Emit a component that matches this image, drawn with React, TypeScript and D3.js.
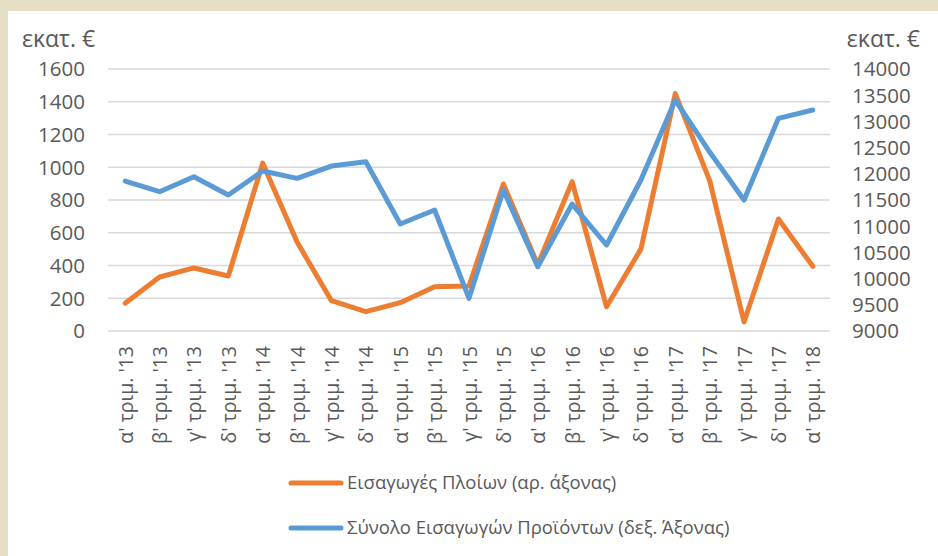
import React, { useEffect, useRef } from 'react';
import * as d3 from 'd3';

const quarters = [
  "α' τριμ. '13", "β' τριμ. '13", "γ' τριμ. '13", "δ' τριμ. '13",
  "α' τριμ. '14", "β' τριμ. '14", "γ' τριμ. '14", "δ' τριμ. '14",
  "α' τριμ. '15", "β' τριμ. '15", "γ' τριμ. '15", "δ' τριμ. '15",
  "α' τριμ. '16", "β' τριμ. '16", "γ' τριμ. '16", "δ' τριμ. '16",
  "α' τριμ. '17", "β' τριμ. '17", "γ' τριμ. '17", "δ' τριμ. '17",
  "α' τριμ. '18"
];

// Εισαγωγές Πλοίων (left axis)
const shipImports = [
  170, 330, 385, 336, 1025, 543, 185, 118, 173, 270, 275, 898,
  405, 912, 148, 500, 1450, 918, 55, 684, 395
];

// Σύνολο Εισαγωγών Προϊόντων (right axis)
const totalImports = [
  11862, 11658, 11944, 11595, 12053, 11913, 12148, 12230, 11042, 11309, 9624, 11690,
  10227, 11423, 10641, 11881, 13407, 12415, 11500, 13058, 13217
];

const leftTicks = [0, 200, 400, 600, 800, 1000, 1200, 1400, 1600];
const rightTicks = [9000, 9500, 10000, 10500, 11000, 11500, 12000, 12500, 13000, 13500, 14000];

const seriesNames = [
  'Εισαγωγές Πλοίων (αρ. άξονας)',
  'Σύνολο Εισαγωγών Προϊόντων (δεξ. Άξονας)'
];

const ORANGE = '#ED7D31';
const BLUE = '#5B9BD5';
const TEXT = '#595959';
const FONT = '"Open Sans", "Noto Sans", sans-serif';

const App = () => {
  const svgRef = useRef<SVGSVGElement | null>(null);

  useEffect(() => {
    if (!svgRef.current) return;
    const svg = d3.select(svgRef.current);
    svg.selectAll('*').remove();

    const width = 938;
    const height = 556;
    const plot = { left: 108, right: 830, top: 69, bottom: 331 };

    // frame
    svg.append('rect').attr('width', width).attr('height', height).attr('fill', '#e4dfc5');
    svg.append('rect')
      .attr('x', 8).attr('y', 11)
      .attr('width', width - 8).attr('height', height - 11)
      .attr('fill', '#ffffff');

    const x = d3.scaleBand<string>()
      .domain(quarters)
      .range([plot.left, plot.right]);
    const cx = (d: string) => (x(d) as number) + x.bandwidth() / 2;

    const yL = d3.scaleLinear().domain([0, 1600]).range([plot.bottom, plot.top]);
    const yR = d3.scaleLinear().domain([9000, 14000]).range([plot.bottom, plot.top]);

    // gridlines
    svg.append('g')
      .selectAll('line')
      .data(leftTicks)
      .enter().append('line')
      .attr('x1', plot.left).attr('x2', plot.right)
      .attr('y1', d => yL(d)).attr('y2', d => yL(d))
      .attr('stroke', '#d9d9d9')
      .attr('stroke-width', 1.3);

    // left ticks
    svg.append('g')
      .selectAll('text')
      .data(leftTicks)
      .enter().append('text')
      .attr('x', 85)
      .attr('y', d => yL(d))
      .attr('dy', '0.36em')
      .attr('text-anchor', 'end')
      .style('font-family', FONT)
      .style('font-size', '20.5px')
      .style('fill', TEXT)
      .text(d => String(d));

    // right ticks
    svg.append('g')
      .selectAll('text')
      .data(rightTicks)
      .enter().append('text')
      .attr('x', 852)
      .attr('y', d => yR(d))
      .attr('dy', '0.36em')
      .attr('text-anchor', 'start')
      .style('font-family', FONT)
      .style('font-size', '20.5px')
      .style('fill', TEXT)
      .text(d => String(d));

    // unit titles
    svg.append('text')
      .attr('x', 22).attr('y', 47)
      .style('font-family', FONT).style('font-size', '23px').style('fill', TEXT)
      .text('εκατ. €');
    svg.append('text')
      .attr('x', 920).attr('y', 47)
      .attr('text-anchor', 'end')
      .style('font-family', FONT).style('font-size', '23px').style('fill', TEXT)
      .text('εκατ. €');

    // category labels
    svg.append('g')
      .selectAll('text')
      .data(quarters)
      .enter().append('text')
      .attr('transform', d => `translate(${cx(d)}, 346) rotate(-90)`)
      .attr('text-anchor', 'end')
      .attr('dominant-baseline', 'central')
      .style('font-family', FONT)
      .style('font-size', '19.5px')
      .style('fill', TEXT)
      .text(d => d);

    const lineL = d3.line<number>()
      .x((_, i) => cx(quarters[i]))
      .y(d => yL(d));
    const lineR = d3.line<number>()
      .x((_, i) => cx(quarters[i]))
      .y(d => yR(d));

    svg.append('path')
      .datum(shipImports)
      .attr('d', lineL)
      .attr('fill', 'none')
      .attr('stroke', ORANGE)
      .attr('stroke-width', 5)
      .attr('stroke-linejoin', 'round')
      .attr('stroke-linecap', 'round');

    svg.append('path')
      .datum(totalImports)
      .attr('d', lineR)
      .attr('fill', 'none')
      .attr('stroke', BLUE)
      .attr('stroke-width', 5)
      .attr('stroke-linejoin', 'round')
      .attr('stroke-linecap', 'round');

    // legend
    const legend = svg.append('g');
    const legendRows = [
      { name: seriesNames[0], color: ORANGE, y: 483 },
      { name: seriesNames[1], color: BLUE, y: 528 }
    ];
    legendRows.forEach(r => {
      legend.append('line')
        .attr('x1', 291).attr('x2', 341)
        .attr('y1', r.y).attr('y2', r.y)
        .attr('stroke', r.color)
        .attr('stroke-width', 5)
        .attr('stroke-linecap', 'round');
      legend.append('text')
        .attr('x', 347).attr('y', r.y)
        .attr('dy', '0.35em')
        .style('font-family', FONT)
        .style('font-size', '18.5px')
        .style('fill', TEXT)
        .text(r.name);
    });
  }, []);

  return (
    <div style={{ position: 'fixed', left: 0, top: 0, width: 938, height: 556 }}>
      <svg ref={svgRef} width={938} height={556} style={{ display: 'block' }} />
    </div>
  );
};

export default App;
